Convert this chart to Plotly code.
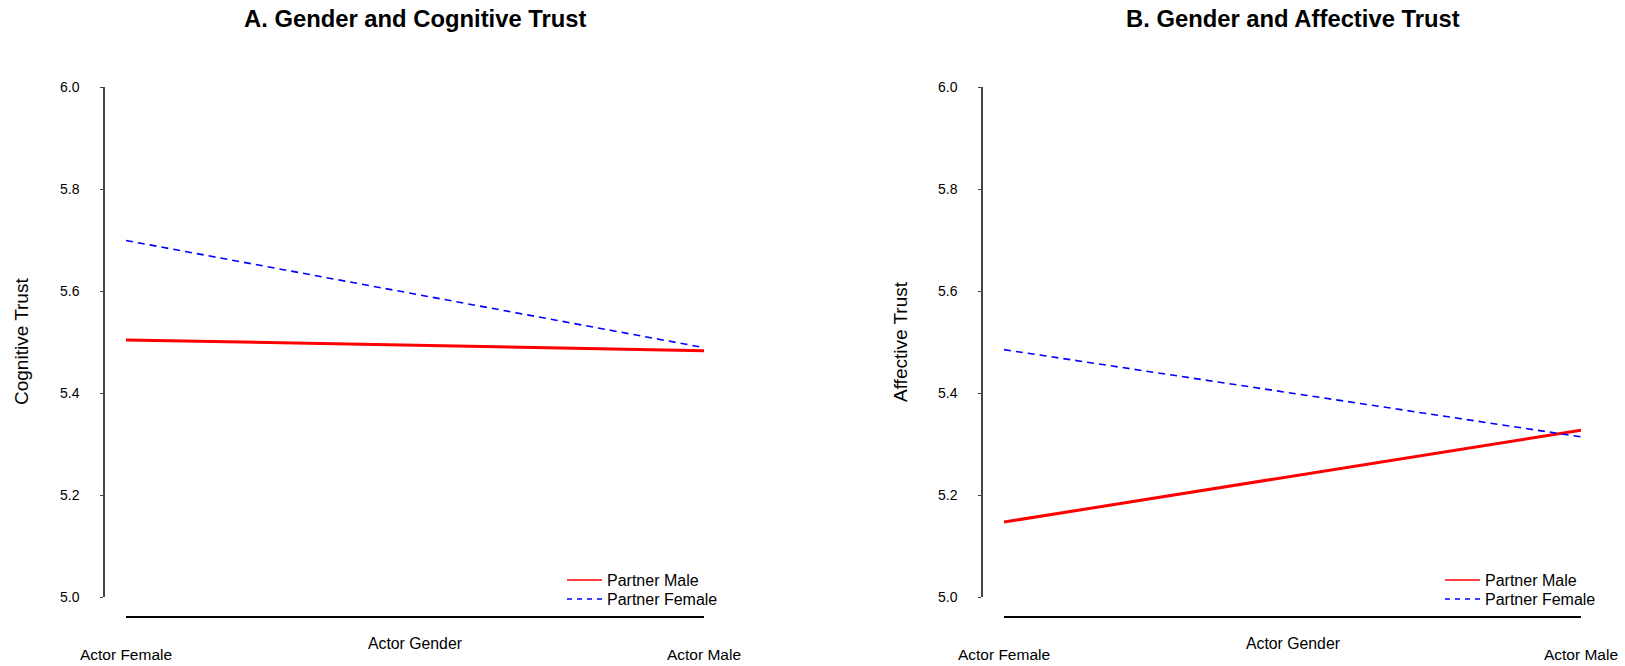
import plotly.graph_objects as go

W, H = 1625, 666

actor = ["Actor Female", "Actor Male"]
x_pos = [0, 1]
y_ticks = [5.0, 5.2, 5.4, 5.6, 5.8, 6.0]
y_tick_labels = ["5.0", "5.2", "5.4", "5.6", "5.8", "6.0"]

cog_partner_male = [5.504, 5.483]
cog_partner_female = [5.699, 5.489]
aff_partner_male = [5.147, 5.327]
aff_partner_female = [5.485, 5.314]

titles = ["A. Gender and Cognitive Trust", "B. Gender and Affective Trust"]
y_titles = ["Cognitive Trust", "Affective Trust"]
x_title = "Actor Gender"
series_names = ["Partner Male", "Partner Female"]

FONT = "Liberation Sans, Arial, Helvetica, sans-serif"

def px_x(p):
    return p / W

def px_y(p):
    return (H - p) / H

fig = go.Figure()

# pixel geometry
x_dom = [(126, 704), (1004, 1581)]
y_axis_px = [104, 982]
y_top, y_bot = 87, 597
x_line_px = 617
legend_x_px = [562, 1440]
legend_row_px = [580, 599]

panels = [
    dict(male=cog_partner_male, female=cog_partner_female, xa="x", ya="y", legs=("legend", "legend2")),
    dict(male=aff_partner_male, female=aff_partner_female, xa="x2", ya="y2", legs=("legend3", "legend4")),
]
for p in panels:
    fig.add_trace(go.Scatter(x=x_pos, y=p["male"], mode="lines", name=series_names[0],
                             line=dict(color="#ff0000", width=3), xaxis=p["xa"], yaxis=p["ya"],
                             showlegend=False, hoverinfo="skip"))
    fig.add_trace(go.Scatter(x=x_pos, y=p["female"], mode="lines", name=series_names[1],
                             line=dict(color="#0000ff", width=1.6, dash="7px,5px"),
                             xaxis=p["xa"], yaxis=p["ya"], showlegend=False, hoverinfo="skip"))
    # legend entries (thin keys, like the reference legend)
    fig.add_trace(go.Scatter(x=[None], y=[None], mode="lines", name=series_names[0],
                             line=dict(color="#ff0000", width=1.5), xaxis=p["xa"], yaxis=p["ya"],
                             legend=p["legs"][0]))
    fig.add_trace(go.Scatter(x=[None], y=[None], mode="lines", name=series_names[1],
                             line=dict(color="#0000ff", width=1.5, dash="5px,5px"),
                             xaxis=p["xa"], yaxis=p["ya"], legend=p["legs"][1]))

common_x = dict(range=[0, 1], showgrid=False, zeroline=False, showline=True,
                linecolor="#000000", linewidth=1.6, ticks="", tickmode="array",
                tickvals=x_pos, ticktext=actor, tickfont=dict(family=FONT, size=15.5, color="#000"),
                ticklabelstandoff=24, anchor="free", position=px_y(x_line_px), fixedrange=True,
                automargin=False)
common_y = dict(range=[5.0, 6.0], showgrid=False, zeroline=False, showline=True,
                linecolor="#444444", linewidth=1.5, ticks="outside", ticklen=3,
                tickcolor="#444444", tickwidth=1, tickmode="array", tickvals=y_ticks,
                ticktext=y_tick_labels, tickfont=dict(family=FONT, size=14, color="#000"),
                ticklabelstandoff=18, anchor="free", domain=[px_y(y_bot), px_y(y_top)],
                fixedrange=True, automargin=False)

fig.update_layout(
    xaxis=dict(common_x, domain=[px_x(x_dom[0][0]), px_x(x_dom[0][1])]),
    xaxis2=dict(common_x, domain=[px_x(x_dom[1][0]), px_x(x_dom[1][1])]),
    yaxis=dict(common_y, position=px_x(y_axis_px[0])),
    yaxis2=dict(common_y, position=px_x(y_axis_px[1])),
)

ann = []
for i in range(2):
    cx = (x_dom[i][0] + x_dom[i][1]) / 2
    ann.append(dict(text="<b>%s</b>" % titles[i], x=px_x(cx), y=px_y(19), xref="paper", yref="paper",
                    xanchor="center", yanchor="middle", showarrow=False,
                    font=dict(family=FONT, size=23.8, color="#000")))
    ann.append(dict(text=x_title, x=px_x(cx), y=px_y(643), xref="paper", yref="paper",
                    xanchor="center", yanchor="middle", showarrow=False,
                    font=dict(family=FONT, size=15.8, color="#000")))
ann.append(dict(text=y_titles[0], x=px_x(21), y=px_y(342), xref="paper", yref="paper",
                xanchor="center", yanchor="middle", showarrow=False, textangle=-90,
                font=dict(family=FONT, size=19, color="#000")))
ann.append(dict(text=y_titles[1], x=px_x(900), y=px_y(342), xref="paper", yref="paper",
                xanchor="center", yanchor="middle", showarrow=False, textangle=-90,
                font=dict(family=FONT, size=19, color="#000")))

legend_common = dict(font=dict(family=FONT, size=16, color="#000"), bgcolor="rgba(0,0,0,0)",
                     xanchor="left", yanchor="middle", tracegroupgap=0, itemwidth=35)
legends = {}
names = ["legend", "legend2", "legend3", "legend4"]
k = 0
for pi in range(2):
    for ri in range(2):
        legends[names[k]] = dict(legend_common, x=px_x(legend_x_px[pi]), y=px_y(legend_row_px[ri]))
        k += 1

fig.update_layout(
    annotations=ann,
    width=W, height=H, margin=dict(l=0, r=0, t=0, b=0, autoexpand=False),
    paper_bgcolor="white", plot_bgcolor="white",
    font=dict(family=FONT, color="#000"),
    **legends,
)

fig.write_html("out.html", config={"displayModeBar": False, "staticPlot": False},
               post_script="document.body.style.margin='0px';")
